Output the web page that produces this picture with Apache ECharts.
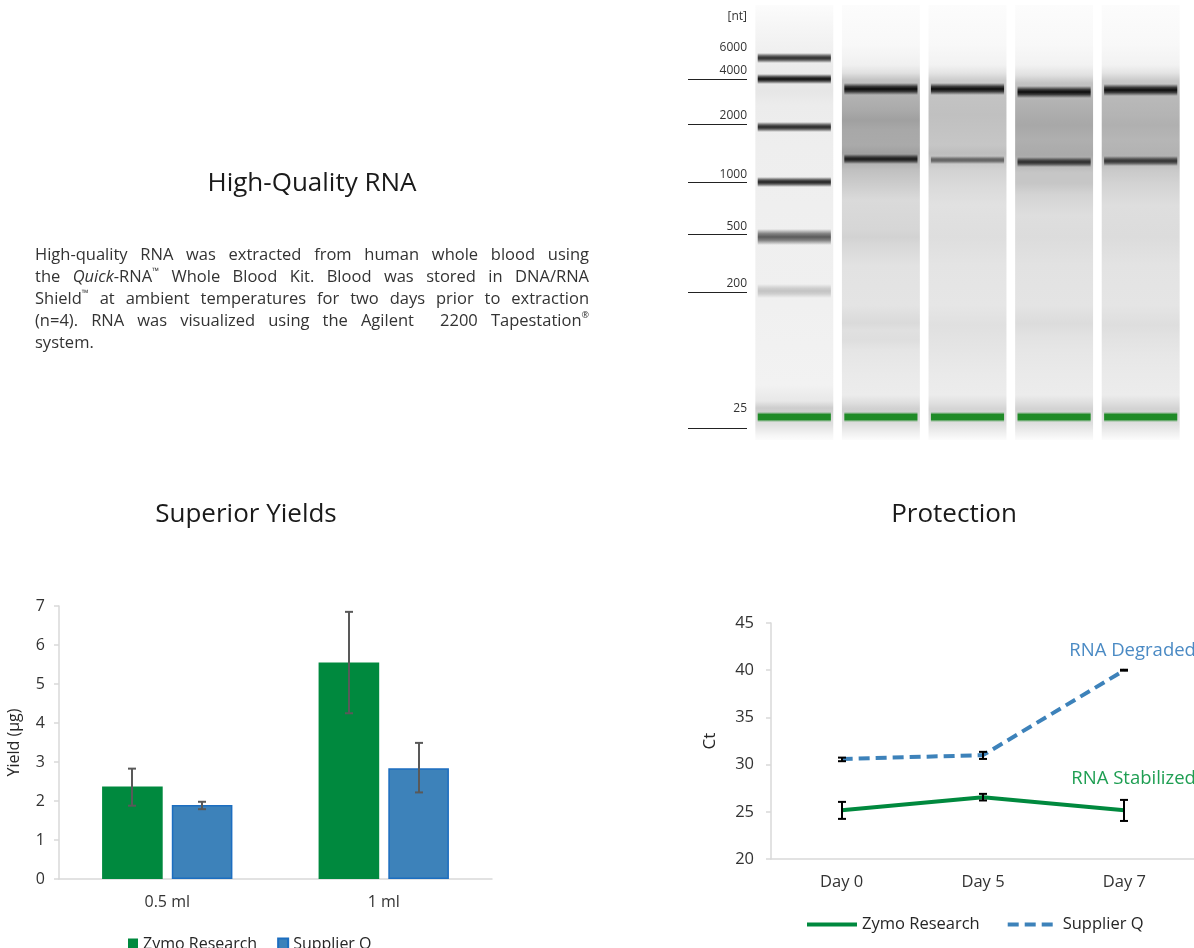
<!DOCTYPE html>
<html><head><meta charset="utf-8">
<script src="https://cdn.jsdelivr.net/npm/echarts@6/dist/echarts.min.js"></script>
<style>html,body{margin:0;padding:0;background:#fff}#c{width:1194px;height:948px}</style>
</head><body><div id="c"></div>
<script>
// ---------------- DATA ----------------
// Gel (Tapestation) : lanes, ladder and band readings. Migration in arbitrary distance units (0 = top)
const gelLanes = ['Ladder', 'Sample 1', 'Sample 2', 'Sample 3', 'Sample 4'];
const ladderSizeLabels = ['[nt]', '6000', '4000', '2000', '1000', '500', '200', '25'];
const ladderLabelPos = [12, 43, 66, 111, 170, 222, 279, 404];
const ladderLinePos = [null, null, 74, 119, 177, 229, 287, 423];
// [lane, migration, gray level (0 = black, 255 = white), half spread]
const ladderBands = [[0, 53, 45, 5], [0, 74, 15, 5], [0, 122, 40, 5], [0, 177, 35, 5], [0, 232, 90, 8], [0, 286, 195, 7]];
const bands28S = [[1, 84, 10, 6], [2, 84, 12, 6], [3, 87, 12, 6], [4, 85, 12, 6]];
const bands18S = [[1, 154, 25, 5], [2, 155, 95, 4], [3, 157, 45, 5], [4, 156, 50, 5]];
const markerBands = [[0, 412], [1, 412], [2, 412], [3, 412], [4, 412]];
// lane background intensity profiles: [migration, gray level]
const ladderProfile = [[0,252],[20,246],[45,240],[60,236],[85,230],[100,236],[140,238],[200,239],[300,240],[380,242],[396,232],[403,205],[420,225],[430,245],[435,252]];
const sample1Profile = [[0,252],[40,248],[60,240],[68,225],[75,195],[92,178],[105,170],[115,160],[125,168],[140,170],[148,160],[165,192],[180,205],[195,218],[225,214],[232,210],[240,216],[260,226],[300,228],[318,218],[325,224],[335,222],[345,229],[370,234],[390,236],[398,222],[404,208],[418,220],[428,240],[435,252]];
const sample2Profile = [[0,252],[40,248],[60,242],[68,228],[75,205],[92,195],[110,192],[125,195],[140,198],[148,190],[165,210],[180,218],[200,225],[232,222],[260,228],[300,230],[320,224],[340,228],[370,234],[390,236],[398,224],[404,212],[418,222],[428,240],[435,252]];
const sample3Profile = [[0,252],[40,248],[60,242],[70,225],[78,195],[95,180],[110,172],[120,168],[135,175],[150,170],[168,198],[178,198],[190,212],[210,222],[232,220],[260,226],[300,228],[318,220],[330,226],[345,230],[370,234],[390,236],[398,222],[404,210],[418,222],[428,240],[435,252]];
const sample4Profile = [[0,252],[40,248],[60,242],[68,228],[76,200],[92,185],[110,180],[120,176],[135,182],[150,178],[166,202],[180,212],[200,222],[232,220],[260,227],[300,229],[320,222],[335,227],[350,231],[370,234],[390,236],[398,222],[404,210],[418,222],[428,240],[435,252]];

// Yield bar chart
const yieldCategories = ['0.5 ml', '1 ml'];
const yieldTicks = [0, 7, 1];
const zymoYield = [2.37, 5.55];
const zymoYieldLow = [1.88, 4.25];
const zymoYieldHigh = [2.83, 6.85];
const supplierYield = [1.90, 2.84];
const supplierYieldLow = [1.79, 2.22];
const supplierYieldHigh = [1.98, 3.49];

// Protection line chart
const days = ['Day 0', 'Day 5', 'Day 7'];
const ctTicks = [20, 45, 5];
const zymoCt = [25.17, 26.54, 25.17];
const zymoCtLow = [24.25, 26.2, 24.03];
const zymoCtHigh = [26.05, 26.9, 26.26];
const supplierCt = [30.6, 31.0, 40.0];
const supplierCtLow = [30.36, 30.6, 39.95];
const supplierCtHigh = [30.74, 31.35, 40.05];

// Texts
const paragraphLines = [
  'High-quality RNA was extracted from human whole blood using',
  'the {i|Quick}-RNA{s|™} Whole Blood Kit. Blood was stored in DNA/RNA',
  'Shield{s|™} at ambient temperatures for two days prior to extraction',
  '(n=4). RNA was visualized using the Agilent  2200 Tapestation{s|®}',
  'system.'
];

// ---------------- STYLE ----------------
const FONT = 'Open Sans';
const GREEN = '#00893e';
const BLUE = '#3d82ba';
const AXIS = '#d9d9d9';
const TXT = '#333333';
const GEL_MIN = 0, GEL_MAX = 435;
const BAR_RATIO = 0.28, GAP_RATIO = 0.15;
const laneProfiles = [ladderProfile, sample1Profile, sample2Profile, sample3Profile, sample4Profile];

const chart = echarts.init(document.getElementById('c'), null, {renderer: 'canvas'});

// ----- gel renderers -----
function laneRender(params, api) {
  const lane = api.value(0);
  const prof = laneProfiles[lane];
  const w = api.size([1, 0])[0] * 0.9;
  const cx = api.coord([lane, 0])[0];
  const y0 = api.coord([lane, GEL_MIN])[1], y1 = api.coord([lane, GEL_MAX])[1];
  const stops = prof.map(([m, g]) => ({offset: (m - GEL_MIN) / (GEL_MAX - GEL_MIN), color: `rgb(${g},${g},${g})`}));
  return {type: 'rect', shape: {x: cx - w / 2, y: y0, width: w, height: y1 - y0},
    style: {fill: new echarts.graphic.LinearGradient(0, 0, 0, 1, stops)}};
}
function bandRender(params, api) {
  const lane = api.value(0), m = api.value(1), g = api.value(2), sp = api.value(3);
  const w = api.size([1, 0])[0] * 0.845;
  const cx = api.coord([lane, m])[0];
  const yt = api.coord([lane, m - sp])[1], yb = api.coord([lane, m + sp])[1];
  const c = a => `rgba(${g},${g},${g},${a})`;
  return {type: 'rect', shape: {x: cx - w / 2, y: yt, width: w, height: yb - yt},
    style: {fill: new echarts.graphic.LinearGradient(0, 0, 0, 1, [
      {offset: 0, color: c(0)}, {offset: 0.3, color: c(0.75)}, {offset: 0.5, color: c(1)},
      {offset: 0.7, color: c(0.75)}, {offset: 1, color: c(0)}])}};
}
function markerRender(params, api) {
  const lane = api.value(0), m = api.value(1);
  const w = api.size([1, 0])[0] * 0.845;
  const cx = api.coord([lane, m])[0];
  const yt = api.coord([lane, m - 5])[1], yb = api.coord([lane, m + 5])[1];
  const c = a => `rgba(22,135,30,${a})`;
  return {type: 'rect', shape: {x: cx - w / 2, y: yt, width: w, height: yb - yt},
    style: {fill: new echarts.graphic.LinearGradient(0, 0, 0, 1, [
      {offset: 0, color: c(0)}, {offset: 0.25, color: c(0.95)}, {offset: 0.75, color: c(0.95)}, {offset: 1, color: c(0)}])}};
}
function ladderLabelRender(params, api) {
  const i = params.dataIndex;
  const bw = api.size([1, 0])[0];
  const laneLeft = api.coord([0, 0])[0] - bw / 2;
  const right = laneLeft - 4, left = right - 59;
  const ly = api.coord([0, api.value(1)])[1];
  const children = [{type: 'text', x: right, y: ly, style: {text: ladderSizeLabels[i], align: 'right', verticalAlign: 'middle', fontSize: 12, fontFamily: FONT, fill: TXT}}];
  const lp = ladderLinePos[i];
  if (lp != null) {
    const yy = Math.round(api.coord([0, lp])[1]) + 0.5;
    children.push({type: 'line', shape: {x1: left, y1: yy, x2: right, y2: yy}, style: {stroke: '#222', lineWidth: 1}});
  }
  return {type: 'group', children};
}
// ----- error bars -----
function barErrRender(params, api) {
  const i = api.value(0), lo = api.value(1), hi = api.value(2), s = api.value(3);
  const bw = api.size([1, 0])[0];
  const barW = bw * BAR_RATIO, gap = barW * GAP_RATIO;
  const cx = Math.round(api.coord([i, 0])[0] + (s === 0 ? -1 : 1) * (barW + gap) / 2);
  const yl = api.coord([i, lo])[1], yh = api.coord([i, hi])[1];
  const st = {stroke: '#595959', lineWidth: 2};
  return {type: 'group', children: [
    {type: 'line', shape: {x1: cx, y1: yl, x2: cx, y2: yh}, style: st},
    {type: 'line', shape: {x1: cx - 4, y1: yh, x2: cx + 4, y2: yh}, style: st},
    {type: 'line', shape: {x1: cx - 4, y1: yl, x2: cx + 4, y2: yl}, style: st}]};
}
function lineErrRender(params, api) {
  const i = api.value(0), lo = api.value(1), hi = api.value(2);
  const cx = Math.round(api.coord([i, 0])[0]);
  const yl = api.coord([i, lo])[1], yh = api.coord([i, hi])[1];
  const st = {stroke: '#000', lineWidth: 2};
  return {type: 'group', children: [
    {type: 'line', shape: {x1: cx, y1: yl, x2: cx, y2: yh}, style: st},
    {type: 'line', shape: {x1: cx - 4, y1: yh, x2: cx + 4, y2: yh}, style: st},
    {type: 'line', shape: {x1: cx - 4, y1: yl, x2: cx + 4, y2: yl}, style: st}]};
}

// ----- justified paragraph -----
const PFS = 16.5;
const mctx = document.createElement('canvas').getContext('2d');
function wordWidth(word) {
  const segs = word.split(/(\{[is]\|[^}]*\})/).filter(s => s.length);
  let w = 0;
  segs.forEach(s => {
    let m = s.match(/^\{([is])\|([^}]*)\}$/);
    if (m) {
      mctx.font = (m[1] === 'i' ? 'italic ' + PFS : 9) + 'px "' + FONT + '"';
      w += mctx.measureText(m[2]).width;
    } else { mctx.font = PFS + 'px "' + FONT + '"'; w += mctx.measureText(s).width; }
  });
  return w;
}
const paraLeft = 35, paraRight = 589, paraTop = 255, paraLH = 22;
const paraGraphics = [];
paragraphLines.forEach((line, li) => {
  const words = line.split(' ');
  const widths = words.map(wordWidth);
  const total = widths.reduce((a, b) => a + b, 0);
  const last = li === paragraphLines.length - 1;
  mctx.font = PFS + 'px "' + FONT + '"';
  const gap = last ? mctx.measureText(' ').width : (paraRight - paraLeft - total) / (words.length - 1);
  let x = paraLeft;
  words.forEach((w, wi) => {
    if (w.length) paraGraphics.push({type: 'text', x: x, y: paraTop + li * paraLH,
      style: {text: w, fontSize: PFS, fontFamily: FONT, fill: TXT, verticalAlign: 'middle', lineHeight: 20,
        rich: {i: {fontStyle: 'italic', fontSize: PFS, fontFamily: FONT, fill: TXT, lineHeight: 20},
               s: {fontSize: 9, fontFamily: FONT, fill: TXT, verticalAlign: 'top', lineHeight: 20}}}});
    x += widths[wi] + gap;
  });
});

const titleStyle = {fontSize: 26, fontFamily: FONT, fill: '#1a1a1a', align: 'center', verticalAlign: 'middle'};

const option = {
  animation: false,
  textStyle: {fontFamily: FONT},
  grid: [
    {left: 751, top: 5, width: 433, height: 435, outerBoundsMode: 'none', containLabel: false},
    {left: 59, top: 606, width: 433, height: 273, outerBoundsMode: 'none', containLabel: false},
    {left: 771, top: 623, width: 424, height: 236, outerBoundsMode: 'none', containLabel: false}
  ],
  xAxis: [
    {gridIndex: 0, type: 'category', data: gelLanes, show: false},
    {gridIndex: 1, type: 'category', data: yieldCategories,
      axisLine: {lineStyle: {color: AXIS, width: 1.5}}, axisTick: {show: false},
      axisLabel: {color: TXT, fontSize: 16, margin: 15, fontFamily: FONT}},
    {gridIndex: 2, type: 'category', data: days,
      axisLine: {lineStyle: {color: AXIS, width: 1.5}}, axisTick: {show: false},
      axisLabel: {color: TXT, fontSize: 16.5, margin: 15, fontFamily: FONT}}
  ],
  yAxis: [
    {gridIndex: 0, type: 'value', min: GEL_MIN, max: GEL_MAX, inverse: true, show: false},
    {gridIndex: 1, type: 'value', min: yieldTicks[0], max: yieldTicks[1], interval: yieldTicks[2],
      name: 'Yield (µg)', nameLocation: 'middle', nameGap: 37, nameRotate: 90,
      nameTextStyle: {fontSize: 16, color: '#262626', fontFamily: FONT},
      axisLine: {show: true, lineStyle: {color: AXIS, width: 1.5}},
      axisTick: {show: true, length: 5, lineStyle: {color: AXIS, width: 1.5}},
      splitLine: {show: false},
      axisLabel: {color: TXT, fontSize: 16, margin: 14, fontFamily: FONT}},
    {gridIndex: 2, type: 'value', min: ctTicks[0], max: ctTicks[1], interval: ctTicks[2],
      name: 'Ct', nameLocation: 'middle', nameGap: 52, nameRotate: 90,
      nameTextStyle: {fontSize: 17, color: '#262626', fontFamily: FONT},
      axisLine: {show: true, lineStyle: {color: AXIS, width: 1.5}},
      axisTick: {show: true, length: 5, lineStyle: {color: AXIS, width: 1.5}},
      splitLine: {show: false},
      axisLabel: {color: TXT, fontSize: 16.5, margin: 17, fontFamily: FONT}}
  ],
  legend: [
    {data: ['Zymo Research', 'Supplier Q'], left: 128, top: 936, padding: 0, icon: 'rect', itemWidth: 10, itemHeight: 11,
      itemGap: 20, selectedMode: false, textStyle: {fontSize: 16, color: '#262626', fontFamily: FONT}},
    {data: ['Zymo Research (Ct)', 'Supplier Q (Ct)'], left: 805, top: 916, padding: 0, itemWidth: 50, itemHeight: 14,
      itemGap: 26, selectedMode: false, formatter: n => n.replace(' (Ct)', ''),
      itemStyle: {opacity: 0}, lineStyle: {width: 4},
      textStyle: {fontSize: 16.5, color: '#262626', fontFamily: FONT}}
  ],
  graphic: [
    {type: 'text', x: 312, y: 184, style: Object.assign({text: 'High-Quality RNA'}, titleStyle)},
    {type: 'text', x: 246, y: 515, style: Object.assign({text: 'Superior Yields'}, titleStyle)},
    {type: 'text', x: 954, y: 515, style: Object.assign({text: 'Protection'}, titleStyle)}
  ].concat(paraGraphics),
  series: [
    {type: 'custom', xAxisIndex: 0, yAxisIndex: 0, renderItem: laneRender, silent: true, z: 1,
      data: gelLanes.map((l, i) => [i, GEL_MIN])},
    {type: 'custom', xAxisIndex: 0, yAxisIndex: 0, renderItem: bandRender, silent: true, z: 2,
      data: ladderBands.concat(bands28S, bands18S)},
    {type: 'custom', xAxisIndex: 0, yAxisIndex: 0, renderItem: markerRender, silent: true, z: 3,
      data: markerBands},
    {type: 'custom', xAxisIndex: 0, yAxisIndex: 0, renderItem: ladderLabelRender, silent: true, z: 3,
      data: ladderLabelPos.map(p => [0, p])},

    {name: 'Zymo Research', type: 'bar', xAxisIndex: 1, yAxisIndex: 1, data: zymoYield,
      barWidth: (BAR_RATIO * 100) + '%', barGap: (GAP_RATIO * 100) + '%',
      itemStyle: {color: GREEN}},
    {name: 'Supplier Q', type: 'bar', xAxisIndex: 1, yAxisIndex: 1, data: supplierYield,
      barWidth: (BAR_RATIO * 100) + '%', barGap: (GAP_RATIO * 100) + '%',
      itemStyle: {color: BLUE, borderColor: '#1c6ec0', borderWidth: 1.5}},
    {type: 'custom', xAxisIndex: 1, yAxisIndex: 1, renderItem: barErrRender, z: 5,
      data: yieldCategories.flatMap((c, i) => [[i, zymoYieldLow[i], zymoYieldHigh[i], 0], [i, supplierYieldLow[i], supplierYieldHigh[i], 1]])},

    {name: 'Zymo Research (Ct)', type: 'line', xAxisIndex: 2, yAxisIndex: 2, data: zymoCt,
      symbol: 'none', lineStyle: {color: GREEN, width: 4}, itemStyle: {color: GREEN},
      markPoint: {symbol: 'rect', symbolSize: 0, silent: true,
        label: {show: true, formatter: 'RNA Stabilized', position: [-53, -41], color: '#1e9e52', fontSize: 18.5, fontFamily: FONT},
        data: [{coord: [days.length - 1, zymoCt[zymoCt.length - 1]]}]}},
    {name: 'Supplier Q (Ct)', type: 'line', xAxisIndex: 2, yAxisIndex: 2, data: supplierCt,
      symbol: 'none', lineStyle: {color: BLUE, width: 4, type: [11, 6]}, itemStyle: {color: BLUE},
      markPoint: {symbol: 'rect', symbolSize: 0, silent: true,
        label: {show: true, formatter: 'RNA Degraded', position: [-55, -29], color: '#4a8ac4', fontSize: 18.5, fontFamily: FONT},
        data: [{coord: [days.length - 1, supplierCt[supplierCt.length - 1]]}]}},
    {type: 'custom', xAxisIndex: 2, yAxisIndex: 2, renderItem: lineErrRender, z: 5,
      data: days.flatMap((d, i) => [[i, zymoCtLow[i], zymoCtHigh[i]], [i, supplierCtLow[i], supplierCtHigh[i]]])}
  ]
};
chart.setOption(option);
</script>
</body></html>
